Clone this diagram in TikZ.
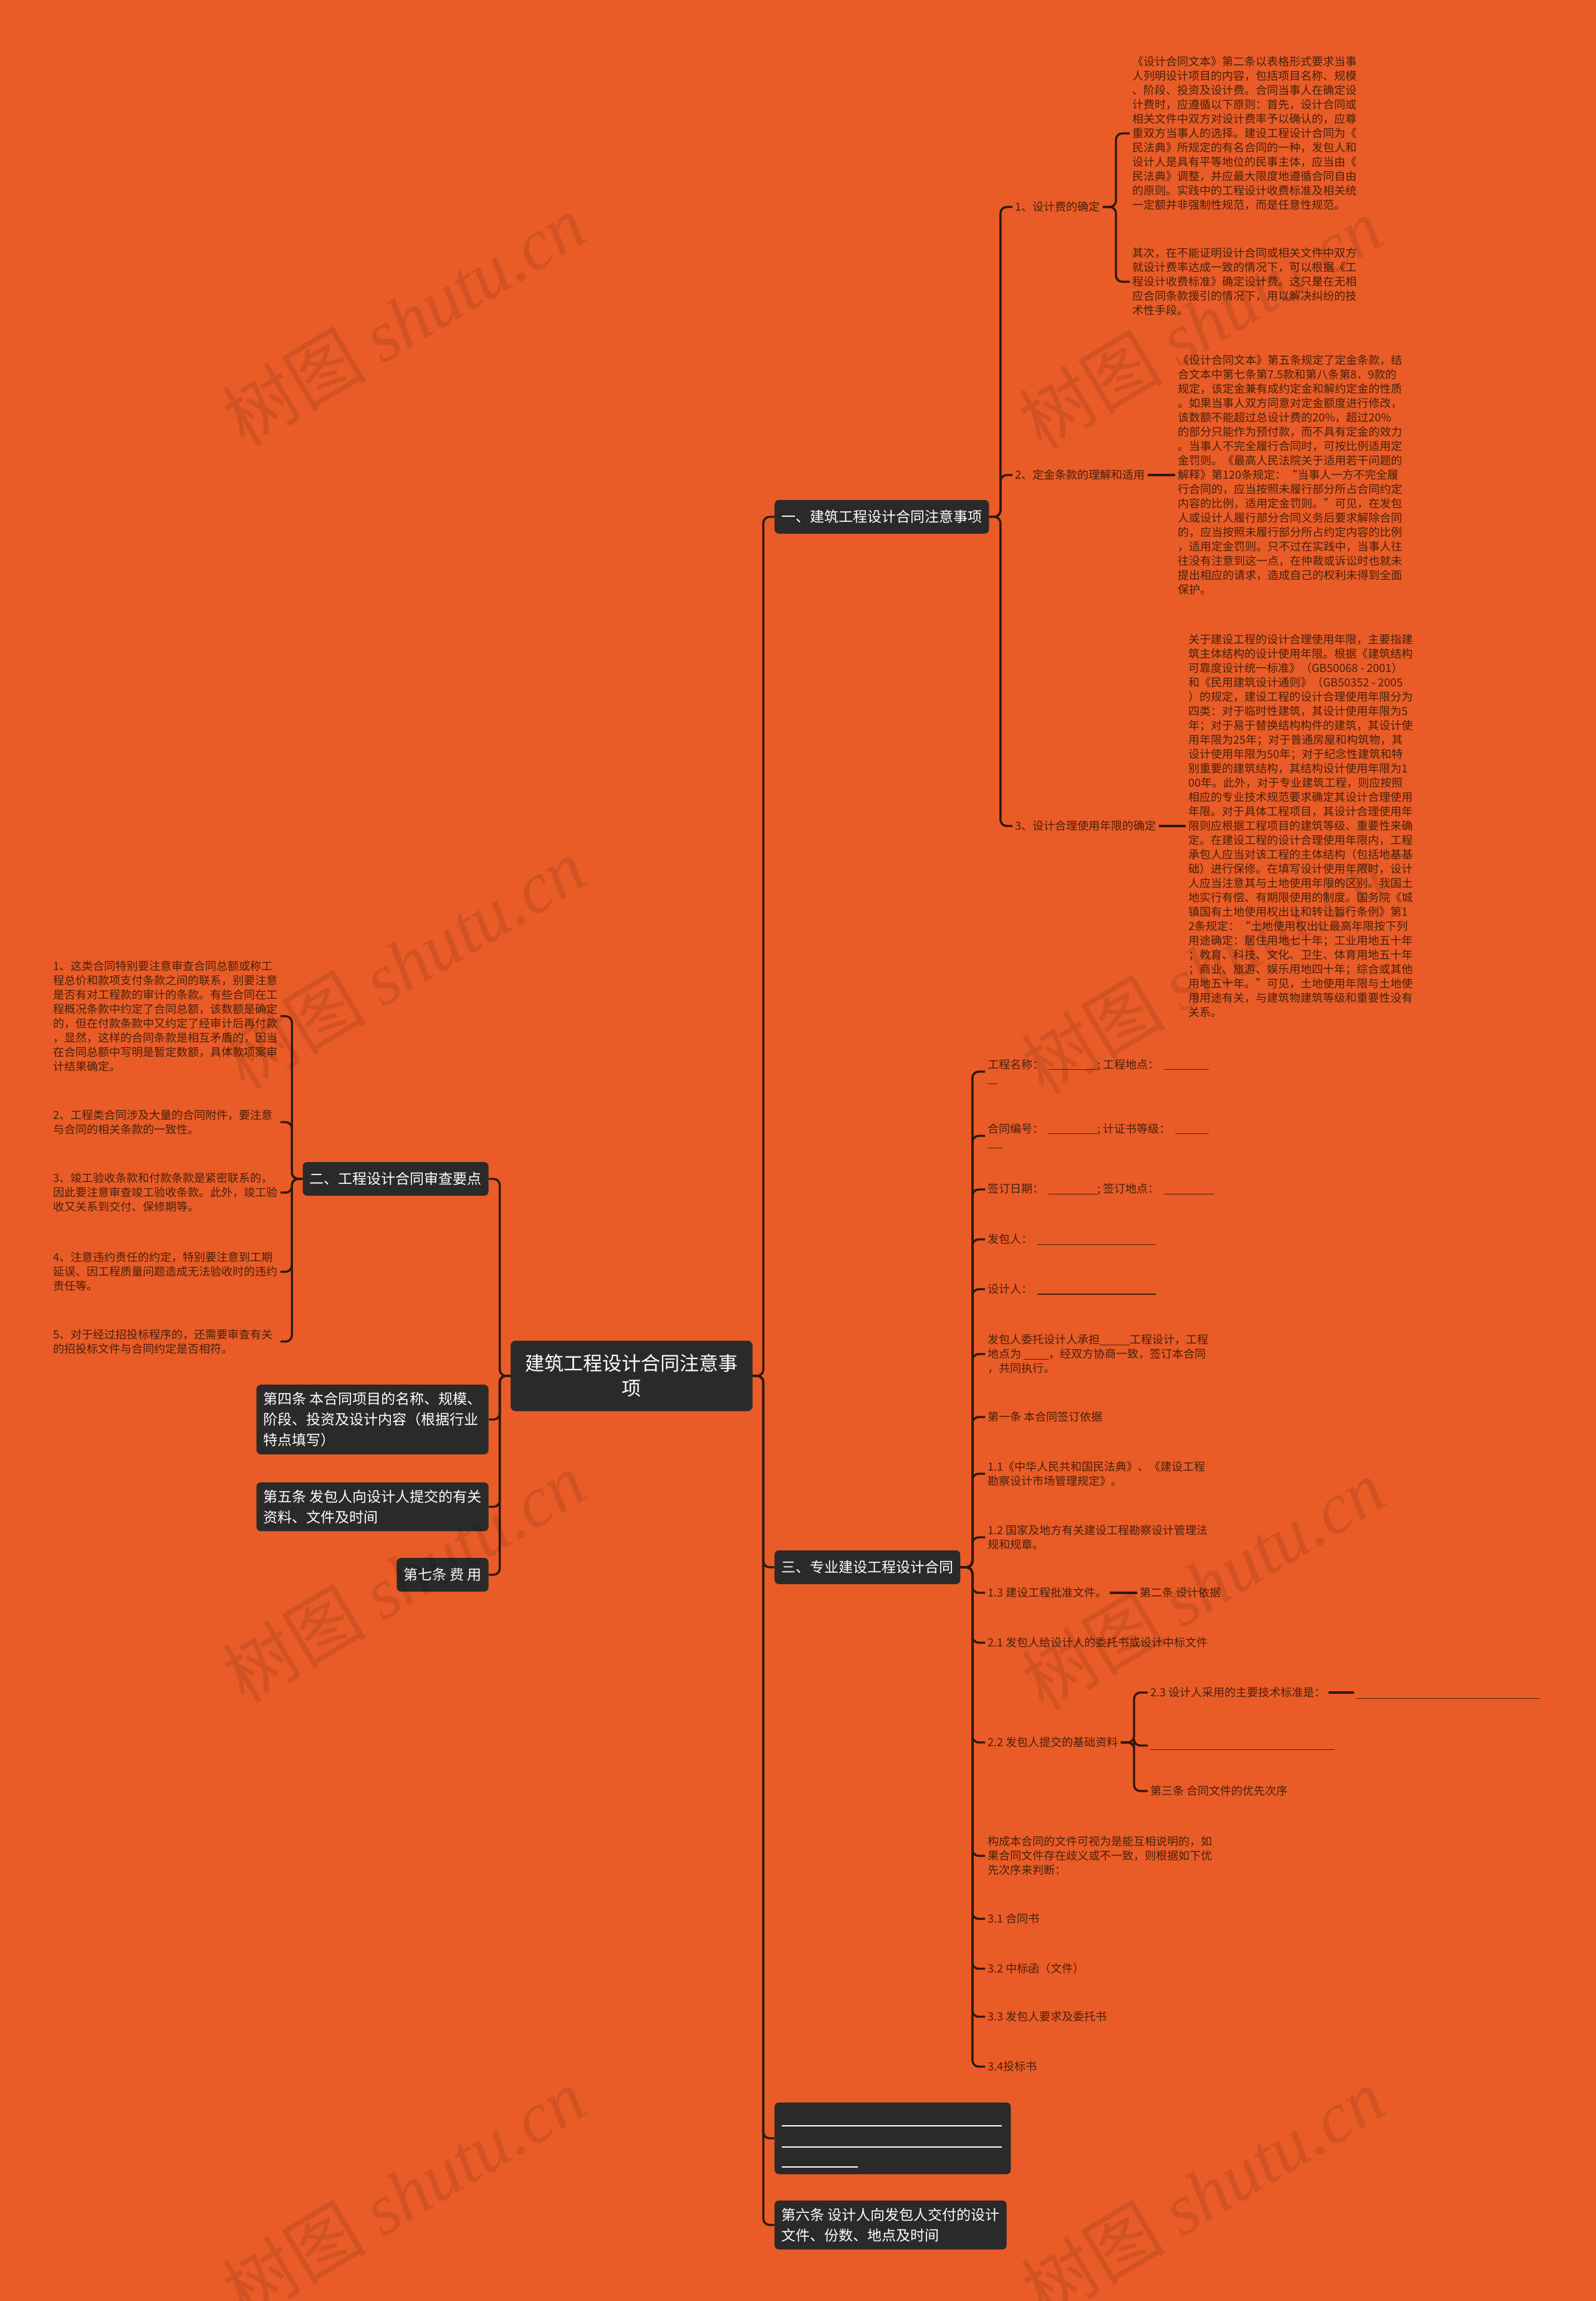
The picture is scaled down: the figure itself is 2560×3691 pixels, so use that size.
\documentclass[tikz,border=0pt]{standalone}
\usepackage{fontspec}
\setmainfont{Noto Sans CJK SC}
\newfontfamily\wmlatin{Liberation Serif}
\usetikzlibrary{calc}
\definecolor{bg}{RGB}{233,92,39}
\definecolor{boxc}{RGB}{42,42,42}
\definecolor{ink}{RGB}{72,32,12}
\definecolor{wire}{RGB}{48,24,12}
\newcommand{\uln}[1]{\rule[-1pt]{#1}{0.55pt}}
\begin{document}
\begin{tikzpicture}[x=0.5pt,y=-0.5pt,
 conn/.style={draw=wire, line width=1.7pt, rounded corners=5pt},
 rootbox/.style={fill=boxc, text=white, rounded corners=4pt, align=center, font=\fontsize{15.5}{20}\selectfont, minimum width=194pt, minimum height=56.5pt, inner sep=0pt},
 topic/.style={fill=boxc, text=white, rounded corners=3.5pt, align=left, font=\fontsize{11.5}{16.5}\selectfont, inner xsep=5.5pt, inner ysep=6pt, minimum height=27pt},
 leaf/.style={text=ink, align=left, font=\fontsize{9}{11.5}\selectfont, inner sep=2pt},
 leftleaf/.style={leaf, text width=180pt},
 wm/.style={text=black, opacity=0.1, rotate=31, font=\fontsize{58}{58}\selectfont, inner sep=0pt}
]
\path[fill=bg] (0,0) rectangle (2560,3691);
\useasboundingbox (0,0) rectangle (2560,3691);

% root
\node[rootbox] (root) at (1013,2207) {建筑工程设计合同注意事\\项};

% right main topics
\node[topic, anchor=west] (t1) at (1242,829) {一、建筑工程设计合同注意事项};
\node[topic, anchor=west] (t3) at (1242,2514) {三、专业建设工程设计合同};
\node[topic, anchor=west, minimum height=57.5pt, minimum width=189.5pt] (tb) at (1242,3430) {};
\node[topic, anchor=west] (t6) at (1242,3569) {第六条 设计人向发包人交付的设计\\文件、份数、地点及时间};
\draw[white, line width=0.9pt] (1254,3410) -- (1607,3410);
\draw[white, line width=0.9pt] (1254,3444) -- (1607,3444);
\draw[white, line width=0.9pt] (1254,3476) -- (1376,3476);

% left main topics
\node[topic, anchor=east] (t2) at (784,1891) {二、工程设计合同审查要点};
\node[topic, anchor=east] (t4) at (784,2277) {第四条 本合同项目的名称、规模、\\阶段、投资及设计内容（根据行业\\特点填写）};
\node[topic, anchor=east] (t5) at (784,2417) {第五条 发包人向设计人提交的有关\\资料、文件及时间};
\node[topic, anchor=east] (t7) at (784,2526) {第七条 费 用};

\foreach \n in {t1,t3,tb,t6} \draw[conn] (root.east) -- ++(17,0) |- (\n.west);
\foreach \n in {t2,t4,t5,t7} \draw[conn] (root.west) -- ++(-17,0) |- (\n.east);

% branch one
\node[leaf, anchor=west] (a1) at (1624,332) {1、设计费的确定};
\node[leaf, anchor=west] (a2) at (1624,762) {2、定金条款的理解和适用};
\node[leaf, anchor=west] (a3) at (1624,1325) {3、设计合理使用年限的确定};
\foreach \n in {a1,a2,a3} \draw[conn] (t1.east) -- ++(18,0) |- (\n.west);

\node[leaf, anchor=west] (a1x) at (1812,214) {《设计合同文本》第二条以表格形式要求当事\\
人列明设计项目的内容，包括项目名称、规模\\
、阶段、投资及设计费。合同当事人在确定设\\
计费时，应遵循以下原则：首先，设计合同或\\
相关文件中双方对设计费率予以确认的，应尊\\
重双方当事人的选择。建设工程设计合同为《\\
民法典》所规定的有名合同的一种，发包人和\\
设计人是具有平等地位的民事主体，应当由《\\
民法典》调整，并应最大限度地遵循合同自由\\
的原则。实践中的工程设计收费标准及相关统\\
一定额并非强制性规范，而是任意性规范。};
\node[leaf, anchor=west] (a1y) at (1812,452) {其次，在不能证明设计合同或相关文件中双方\\
就设计费率达成一致的情况下，可以根据《工\\
程设计收费标准》确定设计费。这只是在无相\\
应合同条款援引的情况下，用以解决纠纷的技\\
术性手段。};
\draw[conn] (a1.east) -- (1790,332) |- (a1x.west);
\draw[conn] (a1.east) -- (1790,332) |- (a1y.west);

\node[leaf, anchor=west] (a2x) at (1885,762) {《设计合同文本》第五条规定了定金条款，结\\
合文本中第七条第7.5款和第八条第8．9款的\\
规定，该定金兼有成约定金和解约定金的性质\\
。如果当事人双方同意对定金额度进行修改，\\
该数额不能超过总设计费的20\%，超过20\%\\
的部分只能作为预付款，而不具有定金的效力\\
。当事人不完全履行合同时，可按比例适用定\\
金罚则。《最高人民法院关于适用若干问题的\\
解释》第120条规定：“当事人一方不完全履\\
行合同的，应当按照未履行部分所占合同约定\\
内容的比例，适用定金罚则。”可见，在发包\\
人或设计人履行部分合同义务后要求解除合同\\
的，应当按照未履行部分所占约定内容的比例\\
，适用定金罚则。只不过在实践中，当事人往\\
往没有注意到这一点，在仲裁或诉讼时也就未\\
提出相应的请求，造成自己的权利未得到全面\\
保护。};
\draw[conn] (a2.east) -- (a2x.west);

\node[leaf, anchor=west] (a3x) at (1902,1325) {关于建设工程的设计合理使用年限，主要指建\\
筑主体结构的设计使用年限。根据《建筑结构\\
可靠度设计统一标准》（GB50068 - 2001）\\
和《民用建筑设计通则》（GB50352 - 2005\\
）的规定，建设工程的设计合理使用年限分为\\
四类：对于临时性建筑，其设计使用年限为5\\
年；对于易于替换结构构件的建筑，其设计使\\
用年限为25年；对于普通房屋和构筑物，其\\
设计使用年限为50年；对于纪念性建筑和特\\
别重要的建筑结构，其结构设计使用年限为1\\
00年。此外，对于专业建筑工程，则应按照\\
相应的专业技术规范要求确定其设计合理使用\\
年限。对于具体工程项目，其设计合理使用年\\
限则应根据工程项目的建筑等级、重要性来确\\
定。在建设工程的设计合理使用年限内，工程\\
承包人应当对该工程的主体结构（包括地基基\\
础）进行保修。在填写设计使用年限时，设计\\
人应当注意其与土地使用年限的区别。我国土\\
地实行有偿、有期限使用的制度。国务院《城\\
镇国有土地使用权出让和转让暂行条例》第1\\
2条规定：“土地使用权出让最高年限按下列\\
用途确定：居住用地七十年；工业用地五十年\\
；教育、科技、文化、卫生、体育用地五十年\\
；商业、旅游、娱乐用地四十年；综合或其他\\
用地五十年。”可见，土地使用年限与土地使\\
用用途有关，与建筑物建筑等级和重要性没有\\
关系。};
\draw[conn] (a3.east) -- (a3x.west);

% branch two (left)
\node[leftleaf, anchor=west] (b1) at (81,1630) {1、这类合同特别要注意审查合同总额或称工\\
程总价和款项支付条款之间的联系，别要注意\\
是否有对工程款的审计的条款。有些合同在工\\
程概况条款中约定了合同总额，该数额是确定\\
的，但在付款条款中又约定了经审计后再付款\\
，显然，这样的合同条款是相互矛盾的，因当\\
在合同总额中写明是暂定数额，具体款项案审\\
计结果确定。};
\node[leftleaf, anchor=west] (b2) at (81,1800) {2、工程类合同涉及大量的合同附件，要注意\\
与合同的相关条款的一致性。};
\node[leftleaf, anchor=west] (b3) at (81,1913) {3、竣工验收条款和付款条款是紧密联系的，\\
因此要注意审查竣工验收条款。此外，竣工验\\
收又关系到交付、保修期等。};
\node[leftleaf, anchor=west] (b4) at (81,2040) {4、注意违约责任的约定，特别要注意到工期\\
延误、因工程质量问题造成无法验收时的违约\\
责任等。};
\node[leftleaf, anchor=west] (b5) at (81,2152) {5、对于经过招投标程序的，还需要审查有关\\
的招投标文件与合同约定是否相符。};
\foreach \n in {b1,b2,b3,b4,b5} \draw[conn] (t2.west) -- ++(-17,0) |- (\n.east);

% branch three
\node[leaf, anchor=west] (c1) at (1580,1719) {工程名称：\hspace{4pt}\uln{39pt}; 工程地点：\hspace{4pt}\uln{36pt}\\\uln{8pt}};
\node[leaf, anchor=west] (c2) at (1580,1822) {合同编号：\hspace{4pt}\uln{39pt}; 计证书等级：\hspace{4pt}\uln{27pt}\\\uln{12pt}};
\node[leaf, anchor=west] (c3) at (1580,1908) {签订日期：\hspace{4pt}\uln{39pt}; 签订地点：\hspace{4pt}\uln{40pt}};
\node[leaf, anchor=west] (c4) at (1580,1988) {发包人：\hspace{4pt}\uln{95pt}};
\node[leaf, anchor=west] (c5) at (1580,2068) {设计人：\hspace{4pt}\uln{95pt}};
\node[leaf, anchor=west] (c6) at (1580,2172) {发包人委托设计人承担\uln{24pt}工程设计，工程\\地点为 \uln{20pt}，经双方协商一致，签订本合同\\，共同执行。};
\node[leaf, anchor=west] (c7) at (1580,2273) {第一条 本合同签订依据};
\node[leaf, anchor=west] (c8) at (1580,2364) {1.1《中华人民共和国民法典》、《建设工程\\勘察设计市场管理规定》。};
\node[leaf, anchor=west] (c9) at (1580,2466) {1.2 国家及地方有关建设工程勘察设计管理法\\规和规章。};
\node[leaf, anchor=west] (c10) at (1580,2555) {1.3 建设工程批准文件。};
\node[leaf, anchor=west] (c11) at (1580,2635) {2.1 发包人给设计人的委托书或设计中标文件};
\node[leaf, anchor=west] (c12) at (1580,2795) {2.2 发包人提交的基础资料};
\node[leaf, anchor=west] (c13) at (1580,2977) {构成本合同的文件可视为是能互相说明的，如\\果合同文件存在歧义或不一致，则根据如下优\\先次序来判断：};
\node[leaf, anchor=west] (c14) at (1580,3078) {3.1 合同书};
\node[leaf, anchor=west] (c15) at (1580,3158) {3.2 中标函（文件）};
\node[leaf, anchor=west] (c16) at (1580,3235) {3.3 发包人要求及委托书};
\node[leaf, anchor=west] (c17) at (1580,3315) {3.4投标书};
\foreach \n in {c1,c2,c3,c4,c5,c6,c7,c8,c9,c10,c11,c12,c13,c14,c15,c16,c17} \draw[conn] (t3.east) -- ++(19,0) |- (\n.west);

\node[leaf, anchor=west] (e2) at (1824,2555) {第二条 设计依据};
\draw[conn] (c10.east) -- (e2.west);

\node[leaf, anchor=west] (d1) at (1841,2715) {2.3 设计人采用的主要技术标准是：};
\node[leaf, anchor=west] (d2) at (1841,2800) {\strut\uln{148pt}};
\node[leaf, anchor=west] (d3) at (1841,2873) {第三条 合同文件的优先次序};
\foreach \n in {d1,d2,d3} \draw[conn] (c12.east) -- (1819,2795) |- (\n.west);
\node[leaf, anchor=west] (e1) at (2172,2718) {\strut\uln{147pt}};
\draw[conn] (d1.east) -- (d1.east -| e1.west);

% watermarks
\foreach \p in {(647,513),(1925,518),(647,1545),(1929,1553),(647,2530),(1929,2541),(647,3518),(1929,3518)}
  \node[wm] at \p {树图 {\wmlatin\itshape shutu.cn}};
\end{tikzpicture}
\end{document}
